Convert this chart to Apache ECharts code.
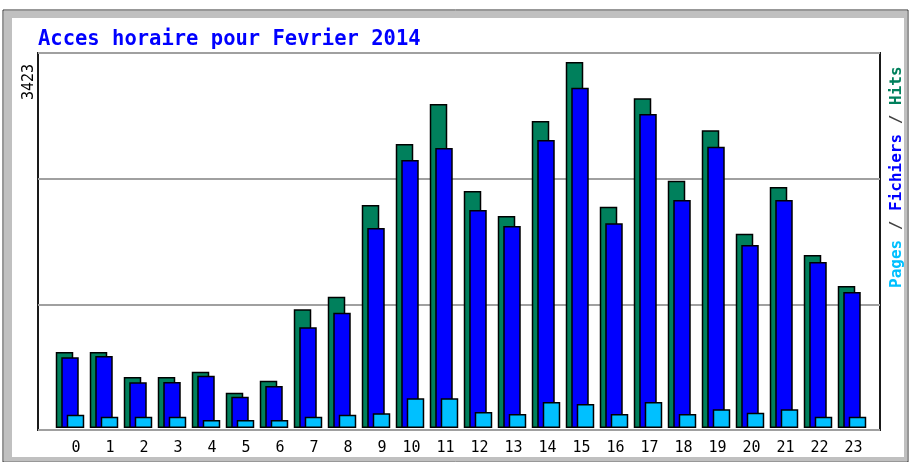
<!DOCTYPE html>
<html>
<head>
<meta charset="utf-8">
<title>Acces horaire pour Fevrier 2014</title>
<script src="https://cdn.jsdelivr.net/npm/echarts@6/dist/echarts.min.js"></script>
<style>
  html, body { margin: 0; padding: 0; background: #fff; }
  #chart { width: 910px; height: 462px; }
</style>
</head>
<body>
<div id="chart"></div>
<script>
// heures
var hours = ['0','1','2','3','4','5','6','7','8','9','10','11','12','13','14','15','16','17','18','19','20','21','22','23'];
// Hits / Fichiers / Pages
var hits  = [711, 711, 477, 477, 527, 330, 442, 1110, 1228, 2085, 2656, 3030, 2216, 1983, 2871, 3423, 2070, 3083, 2313, 2784, 1817, 2254, 1618, 1328];
var files = [661, 673, 427, 430, 489, 293, 393, 942, 1078, 1870, 2506, 2619, 2039, 1889, 2693, 3183, 1914, 2937, 2132, 2631, 1711, 2132, 1552, 1272];
var pages = [124, 106, 106, 106, 75, 75, 75, 106, 124, 137, 278, 278, 150, 131, 243, 224, 131, 243, 131, 175, 143, 175, 106, 106];
var maxLabel = '3423';

(function(){
    var app = echarts.init(document.getElementById('chart'));
    var mono = '"DejaVu Sans Mono", "Liberation Mono", monospace';

    function barSeries(name, data, color) {
        return {
            name: name,
            type: 'bar',
            xAxisIndex: 1,
            yAxisIndex: 1,
            barWidth: 17.5,
            barGap: '-68.6%',
            data: data,
            silent: true,
            itemStyle: { color: color, borderColor: '#000', borderWidth: 1.5 }
        };
    }

    var option = {
        animation: false,
        backgroundColor: '#fff',
        grid: [
            // cadre du graphique
            { left: 38, top: 53, right: 30, bottom: 32, show: true, borderColor: '#1a1a1a', borderWidth: 2, backgroundColor: 'transparent' },
            // barres
            { left: 53, width: 816, top: 53, bottom: 34 },
            // etiquettes des heures
            { left: 63.5, width: 816, top: 53, bottom: 32 }
        ],
        xAxis: [
            { gridIndex: 0, type: 'value', show: false, min: 0, max: 1 },
            { gridIndex: 1, type: 'category', data: hours, show: false },
            {
                gridIndex: 2, type: 'category', data: hours,
                axisLine: { show: false }, axisTick: { show: false },
                axisLabel: { align: 'right', margin: 11, color: '#000', fontFamily: mono, fontSize: 15, interval: 0 }
            }
        ],
        yAxis: [
            {
                gridIndex: 0, type: 'value', min: 0, max: 3, interval: 1,
                axisLine: { show: false }, axisTick: { show: false }, axisLabel: { show: false },
                splitLine: { lineStyle: { color: '#a0a0a0', width: 2 } }
            },
            { gridIndex: 1, type: 'value', min: 0, max: 3507, show: false, splitLine: { show: false } },
            { gridIndex: 2, type: 'value', show: false, splitLine: { show: false } }
        ],
        series: [
            barSeries('Hits', hits, '#00805c'),
            barSeries('Fichiers', files, '#0000ff'),
            barSeries('Pages', pages, '#00c0ff')
        ],
        graphic: [
            // bordure exterieure
            { type: 'rect', shape: { x: 3, y: 10, width: 905, height: 452 }, style: { fill: 'none', stroke: '#303030', lineWidth: 1 }, silent: true },
            { type: 'rect', shape: { x: 4, y: 11, width: 8, height: 450 }, style: { fill: '#c0c0c0' }, silent: true },
            { type: 'rect', shape: { x: 4, y: 11, width: 903, height: 7 }, style: { fill: '#c0c0c0' }, silent: true },
            { type: 'rect', shape: { x: 904, y: 11, width: 3, height: 450 }, style: { fill: '#c0c0c0' }, silent: true },
            { type: 'rect', shape: { x: 4, y: 457, width: 903, height: 4 }, style: { fill: '#c0c0c0' }, silent: true },
            // titre
            {
                type: 'text', left: 38, top: 29,
                style: { text: 'Acces horaire pour Fevrier 2014', fill: '#0000ff', font: 'bold 20.5px ' + mono }
            },
            // valeur max
            {
                type: 'text', x: 29, y: 100, rotation: Math.PI / 2,
                style: { text: maxLabel, fill: '#000', font: '15px ' + mono, textAlign: 'left', textVerticalAlign: 'middle' }
            },
            // legende verticale
            {
                type: 'text', x: 897, y: 288, rotation: Math.PI / 2,
                style: {
                    text: '{p|Pages} {s|/} {f|Fichiers} {s|/} {h|Hits}',
                    textAlign: 'left', textVerticalAlign: 'middle',
                    font: 'bold 16px ' + mono,
                    rich: {
                        p: { fill: '#00c0ff', font: 'bold 16px ' + mono },
                        s: { fill: '#404040', font: 'bold 16px ' + mono },
                        f: { fill: '#0000ff', font: 'bold 16px ' + mono },
                        h: { fill: '#00805c', font: 'bold 16px ' + mono }
                    }
                }
            }
        ]
    };
    app.setOption(option);
})();
</script>
</body>
</html>
